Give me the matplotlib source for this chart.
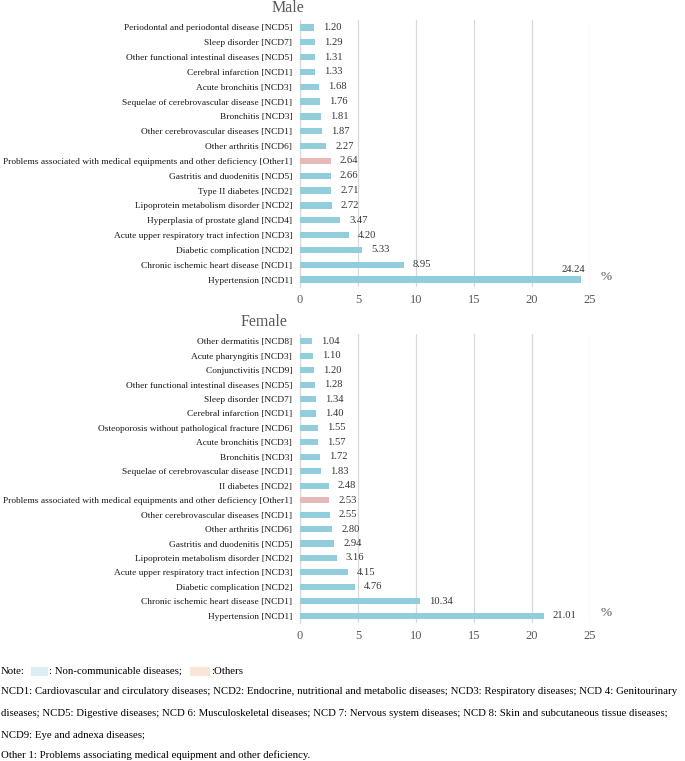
import matplotlib
matplotlib.use("Agg")
import matplotlib.pyplot as plt
from matplotlib.patches import Rectangle
import numpy as np

# ---------------- data ----------------
male_labels = [
    "Periodontal and periodontal disease [NCD5]",
    "Sleep disorder [NCD7]",
    "Other functional intestinal diseases [NCD5]",
    "Cerebral infarction [NCD1]",
    "Acute bronchitis [NCD3]",
    "Sequelae of cerebrovascular disease [NCD1]",
    "Bronchitis [NCD3]",
    "Other cerebrovascular diseases [NCD1]",
    "Other arthritis [NCD6]",
    "Problems associated with medical equipments and other deficiency [Other1]",
    "Gastritis and duodenitis [NCD5]",
    "Type II diabetes [NCD2]",
    "Lipoprotein metabolism disorder [NCD2]",
    "Hyperplasia of prostate gland [NCD4]",
    "Acute upper respiratory tract infection [NCD3]",
    "Diabetic complication [NCD2]",
    "Chronic ischemic heart disease [NCD1]",
    "Hypertension [NCD1]",
]
male_values = [1.20, 1.29, 1.31, 1.33, 1.68, 1.76, 1.81, 1.87, 2.27, 2.64,
               2.66, 2.71, 2.72, 3.47, 4.20, 5.33, 8.95, 24.24]
male_groups = ["NCD"] * 9 + ["Other"] + ["NCD"] * 8

female_labels = [
    "Other dermatitis [NCD8]",
    "Acute pharyngitis [NCD3]",
    "Conjunctivitis [NCD9]",
    "Other functional intestinal diseases [NCD5]",
    "Sleep disorder [NCD7]",
    "Cerebral infarction [NCD1]",
    "Osteoporosis without pathological fracture [NCD6]",
    "Acute bronchitis [NCD3]",
    "Bronchitis [NCD3]",
    "Sequelae of cerebrovascular disease [NCD1]",
    "II diabetes [NCD2]",
    "Problems associated with medical equipments and other deficiency [Other1]",
    "Other cerebrovascular diseases [NCD1]",
    "Other arthritis [NCD6]",
    "Gastritis and duodenitis [NCD5]",
    "Lipoprotein metabolism disorder [NCD2]",
    "Acute upper respiratory tract infection [NCD3]",
    "Diabetic complication [NCD2]",
    "Chronic ischemic heart disease [NCD1]",
    "Hypertension [NCD1]",
]
female_values = [1.04, 1.10, 1.20, 1.28, 1.34, 1.40, 1.55, 1.57, 1.72, 1.83,
                 2.48, 2.53, 2.55, 2.80, 2.94, 3.16, 4.15, 4.76, 10.34, 21.01]
female_groups = ["NCD"] * 11 + ["Other"] + ["NCD"] * 8

x_ticks = [0, 5, 10, 15, 20, 25]

note_lines = [
    "NCD1: Cardiovascular and circulatory diseases; NCD2: Endocrine, nutritional and metabolic diseases; NCD3: Respiratory diseases; NCD 4: Genitourinary",
    "diseases; NCD5: Digestive diseases; NCD 6: Musculoskeletal diseases; NCD 7: Nervous system diseases; NCD 8: Skin and subcutaneous tissue diseases;",
    "NCD9: Eye and adnexa diseases;",
    "Other 1: Problems associating medical equipment and other deficiency.",
]

# ---------------- style ----------------
SERIF = "Liberation Serif"
NCD_COLOR = "#92CDDC"
OTHER_COLOR = "#E6B9B8"
NCD_SWATCH = "#DAEEF3"
OTHER_SWATCH = "#FBE5D6"
GRID = "#D9D9D9"
GRAY = "#595959"

W, H = 685, 761
fig = plt.figure(figsize=(W / 100, H / 100), dpi=100)


def rect(l, t, r, b):
    return [l / W, 1 - b / H, (r - l) / W, (b - t) / H]


def draw(ax, labels, values, groups, pct_y_offset):
    y = np.arange(len(labels))
    colors = [NCD_COLOR if g == "NCD" else OTHER_COLOR for g in groups]
    ax.barh(y, values, height=0.42, color=colors, zorder=3)
    ax.set_ylim(len(labels) - 0.5, -0.5)
    ax.set_xlim(0, 25)
    ax.set_xticks(x_ticks)
    ax.set_xticklabels([str(t) for t in x_ticks], family=SERIF, fontsize=9, color=GRAY)
    ax.set_yticks(y)
    ax.set_yticklabels(labels, family=SERIF, fontsize=6.75, color="#1a1a1a")
    ax.tick_params(axis="both", length=0)
    ax.tick_params(axis="x", pad=5)
    ax.tick_params(axis="y", pad=5.5)
    ax.grid(axis="x", color=GRID, lw=0.9, zorder=0)
    for s in ["top", "right", "bottom"]:
        ax.spines[s].set_visible(False)
    ax.spines["left"].set_color(GRID)
    ax.spines["left"].set_linewidth(0.9)
    ax.set_facecolor("none")
    for i, v in enumerate(values):
        if v > 22:
            ax.annotate(f"{v:.2f}", (v, i), xytext=(-6, 4), textcoords="offset points",
                        ha="center", va="bottom", family=SERIF, fontsize=7.6, color="#333333")
        else:
            ax.annotate(f"{v:.2f}", (v, i), xytext=(6.5, 0), textcoords="offset points",
                        ha="left", va="center", family=SERIF, fontsize=7.6, color="#333333")
    ax.annotate("%", (25, len(labels) - 1), xytext=(7.5, pct_y_offset), textcoords="offset points",
                ha="left", va="center", family=SERIF, fontsize=9.5, color=GRAY,
                annotation_clip=False)


ax1 = fig.add_axes(rect(300, 20, 590, 287))
draw(ax1, male_labels, male_values, male_groups, 2)
ax2 = fig.add_axes(rect(300, 334, 590, 623))
draw(ax2, female_labels, female_values, female_groups, 2)

fig.text(288 / W, 1 - 8 / H, "Male", family=SERIF, fontsize=11.5, color=GRAY,
         ha="center", va="center")
fig.text(264 / W, 1 - 322 / H, "Female", family=SERIF, fontsize=11.5, color=GRAY,
         ha="center", va="center")

# ---------------- notes ----------------
NOTE_FS = 7.75
fig.text(1 / W, 1 - 671 / H, "Note:", family=SERIF, fontsize=NOTE_FS, ha="left", va="center")
fig.add_artist(Rectangle((31 / W, 1 - 675.5 / H), 17 / W, 9 / H, transform=fig.transFigure,
                         facecolor=NCD_SWATCH, edgecolor="none"))
fig.text(49 / W, 1 - 671 / H, ": Non-communicable diseases;", family=SERIF, fontsize=NOTE_FS,
         ha="left", va="center")
fig.add_artist(Rectangle((190 / W, 1 - 675.5 / H), 20 / W, 9 / H, transform=fig.transFigure,
                         facecolor=OTHER_SWATCH, edgecolor="none"))
fig.text(211 / W, 1 - 671 / H, ":Others", family=SERIF, fontsize=NOTE_FS, ha="left", va="center")

for line, ypx in zip(note_lines, [692, 714, 735, 755]):
    fig.text(1 / W, 1 - ypx / H, line, family=SERIF, fontsize=NOTE_FS, ha="left", va="center")

fig.savefig("out.png", dpi=100, facecolor="white")
